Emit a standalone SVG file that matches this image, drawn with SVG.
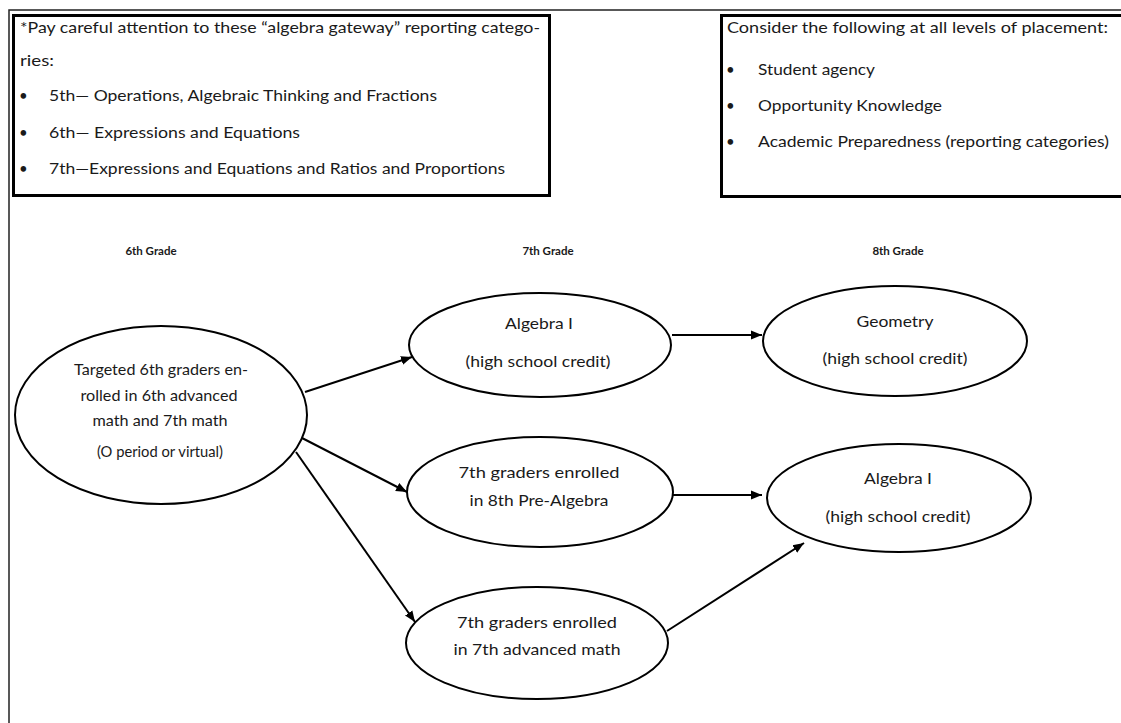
<svg xmlns="http://www.w3.org/2000/svg" width="1121" height="723" viewBox="0 0 1121 723">
<defs>
<style>
.t{font-family:Lato,"Open Sans","Liberation Sans",sans-serif;font-size:15px;fill:#1a1a1a}
.h{font-family:Lato,"Open Sans","Liberation Sans",sans-serif;font-size:15px;fill:#1a1a1a}
.g{font-family:Lato,"Open Sans","Liberation Sans",sans-serif;font-size:11.5px;font-weight:bold;fill:#1a1a1a}
.box{fill:#fff;stroke:#000;stroke-width:3}
.el{fill:#fff;stroke:#000;stroke-width:2}
.c{fill:none;stroke:#000;stroke-width:2}
</style>
<marker id="ah" markerUnits="userSpaceOnUse" markerWidth="12" markerHeight="10" refX="11" refY="5" orient="auto">
<path d="M0,0.5 L11,5 L0,9.5 Z" fill="#000"/>
</marker>
</defs>
<rect width="1121" height="723" fill="#fff"/>
<g id="frame">
<path d="M9,723 V10 H1121" fill="none" stroke="#222" stroke-width="1.5"/>
</g>
<g id="gateway-box">
<rect class="box" x="13.5" y="15.5" width="536" height="180"/>
<text class="h" x="20" y="33" textLength="520" lengthAdjust="spacingAndGlyphs">*Pay careful attention to these “algebra gateway” reporting catego-</text>
<text class="h" x="20" y="66" textLength="34" lengthAdjust="spacingAndGlyphs">ries:</text>
<text class="h" x="19" y="101">•</text>
<text class="h" x="49" y="101" textLength="388" lengthAdjust="spacingAndGlyphs">5th— Operations, Algebraic Thinking and Fractions</text>
<text class="h" x="19" y="138">•</text>
<text class="h" x="49" y="138" textLength="251" lengthAdjust="spacingAndGlyphs">6th— Expressions and Equations</text>
<text class="h" x="19" y="174">•</text>
<text class="h" x="49" y="174" textLength="456" lengthAdjust="spacingAndGlyphs">7th—Expressions and Equations and Ratios and Proportions</text>
</g>
<g id="consider-box">
<rect class="box" x="721.5" y="15.5" width="410" height="181"/>
<text class="h" x="727" y="33" textLength="381" lengthAdjust="spacingAndGlyphs">Consider the following at all levels of placement:</text>
<text class="h" x="726" y="75">•</text>
<text class="h" x="758" y="75" textLength="117" lengthAdjust="spacingAndGlyphs">Student agency</text>
<text class="h" x="726" y="111">•</text>
<text class="h" x="758" y="111" textLength="184" lengthAdjust="spacingAndGlyphs">Opportunity Knowledge</text>
<text class="h" x="726" y="147">•</text>
<text class="h" x="758" y="147" textLength="351" lengthAdjust="spacingAndGlyphs">Academic Preparedness (reporting categories)</text>
</g>
<g id="grade-labels">
<text class="g" x="151" y="255" text-anchor="middle">6th Grade</text>
<text class="g" x="548" y="255" text-anchor="middle">7th Grade</text>
<text class="g" x="898" y="255" text-anchor="middle">8th Grade</text>
</g>
<g id="connectors">
<path class="c" d="M305,392 L412,357" marker-end="url(#ah)"/>
<path class="c" d="M302,438 L407,492" marker-end="url(#ah)"/>
<path class="c" d="M296,452 L415,622" marker-end="url(#ah)"/>
<path class="c" d="M672,335 L762,335" marker-end="url(#ah)"/>
<path class="c" d="M673,495 L762,495" marker-end="url(#ah)"/>
<path class="c" d="M667,631 L804,543" marker-end="url(#ah)"/>
</g>
<g id="node-targeted">
<ellipse class="el" cx="161" cy="415" rx="146" ry="89"/>
<text class="t" x="161" y="375" text-anchor="middle" textLength="174" lengthAdjust="spacingAndGlyphs">Targeted 6th graders en-</text>
<text class="t" x="159" y="401" text-anchor="middle" textLength="157" lengthAdjust="spacingAndGlyphs">rolled in 6th advanced</text>
<text class="t" x="160" y="426" text-anchor="middle" textLength="135" lengthAdjust="spacingAndGlyphs">math and 7th math</text>
<text class="t" x="160" y="457" text-anchor="middle" textLength="126" lengthAdjust="spacingAndGlyphs">(O period or virtual)</text>
</g>
<g id="node-alg7">
<ellipse class="el" cx="540" cy="345" rx="131" ry="52"/>
<text class="t" x="539" y="329" text-anchor="middle" textLength="68" lengthAdjust="spacingAndGlyphs">Algebra I</text>
<text class="t" x="538" y="367" text-anchor="middle" textLength="145" lengthAdjust="spacingAndGlyphs">(high school credit)</text>
</g>
<g id="node-prealg">
<ellipse class="el" cx="540" cy="492" rx="133" ry="55"/>
<text class="t" x="539" y="478" text-anchor="middle" textLength="161" lengthAdjust="spacingAndGlyphs">7th graders  enrolled</text>
<text class="t" x="539" y="506" text-anchor="middle" textLength="139" lengthAdjust="spacingAndGlyphs">in 8th Pre-Algebra</text>
</g>
<g id="node-adv7">
<ellipse class="el" cx="537" cy="643" rx="131" ry="56"/>
<text class="t" x="537" y="628" text-anchor="middle" textLength="160" lengthAdjust="spacingAndGlyphs">7th graders  enrolled</text>
<text class="t" x="537" y="655" text-anchor="middle" textLength="167" lengthAdjust="spacingAndGlyphs">in 7th advanced math</text>
</g>
<g id="node-geometry">
<ellipse class="el" cx="895" cy="341" rx="132" ry="55"/>
<text class="t" x="895" y="327" text-anchor="middle" textLength="77" lengthAdjust="spacingAndGlyphs">Geometry</text>
<text class="t" x="895" y="364" text-anchor="middle" textLength="145" lengthAdjust="spacingAndGlyphs">(high school credit)</text>
</g>
<g id="node-alg8">
<ellipse class="el" cx="899" cy="498" rx="132" ry="54"/>
<text class="t" x="898" y="484" text-anchor="middle" textLength="68" lengthAdjust="spacingAndGlyphs">Algebra I</text>
<text class="t" x="898" y="522" text-anchor="middle" textLength="145" lengthAdjust="spacingAndGlyphs">(high school credit)</text>
</g>
</svg>
